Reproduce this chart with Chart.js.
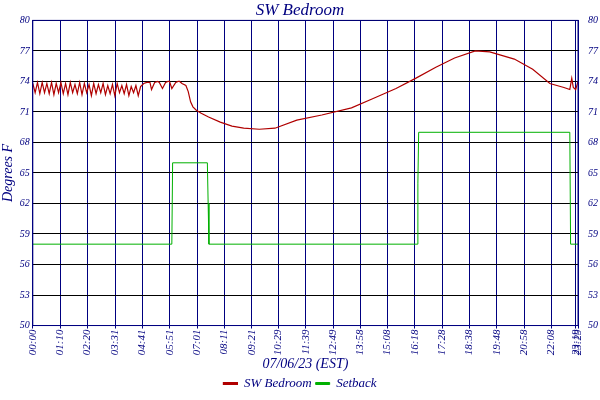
<!DOCTYPE html>
<html>
<head>
<script src="https://cdn.jsdelivr.net/npm/chart.js@4"></script>
<style>
body { margin: 0; background: #fff; }
#wrap { width: 600px; height: 400px; }
</style>
</head>
<body>
<div id="wrap"><canvas id="grafico"></canvas></div>
<script>
// minutes since midnight
const tempTimes = [
  0, 6, 12, 18, 24, 30, 36, 42, 48, 54, 60, 66, 72, 78, 84, 90, 96, 102, 108, 114,
  120, 126, 132, 138, 144, 150, 156, 162, 168, 174, 180, 186, 192, 198, 204, 210, 216, 222, 228, 234,
  240, 246, 252, 258, 264, 270, 276,
  284, 292, 300, 304, 312, 320, 324, 332, 340, 346, 350, 356, 366, 372, 376, 382, 392,
  398, 404, 410, 418, 430, 450, 480, 510, 540, 580, 620, 676, 740, 816, 870, 930, 980, 1032,
  1080, 1133, 1170, 1233, 1280, 1324, 1360, 1375, 1380, 1384, 1390, 1396
];
const tempValues = [
  73.8, 72.9, 73.9, 72.8, 73.9, 72.9, 73.8, 72.8, 73.9, 72.7, 73.8, 72.9, 73.9, 72.8, 73.8, 72.7, 73.9, 72.9, 73.7, 72.8,
  73.9, 72.7, 73.8, 72.9, 73.7, 72.6, 73.8, 72.8, 73.7, 72.9, 73.8, 72.7, 73.6, 72.8, 73.7, 72.6, 73.8, 72.9, 73.6, 72.8,
  73.7, 72.6, 73.5, 72.9, 73.6, 72.6, 73.5,
  73.8, 73.9, 73.9, 73.2, 73.9, 74.0, 73.9, 73.3, 73.9, 74.0, 74.0, 73.3, 73.9, 74.0, 74.0, 73.8, 73.6,
  73.0, 72.0, 71.5, 71.2, 70.9, 70.5, 70.0, 69.6, 69.4, 69.3, 69.4, 70.2, 70.7, 71.4, 72.3, 73.3, 74.3, 75.4,
  76.3, 77.0, 76.9, 76.2, 75.2, 73.8, 73.4, 73.2, 74.3, 73.4, 73.2, 74.0
];
const setTimes = [0, 356, 358, 447, 449, 451, 984, 986, 988, 1375, 1377, 1396];
const setValues = [58, 58, 66, 66, 62, 58, 58, 64, 69, 69, 58, 58];

const tickLabels = ["00:00", "01:10", "02:20", "03:31", "04:41", "05:51", "07:01", "08:11", "09:21", "10:29", "11:39",
  "12:49", "13:58", "15:08", "16:18", "17:28", "18:38", "19:48", "20:58", "22:08", "23:19", "23:29"];
const tickMinutes = [0, 70, 140, 211, 281, 351, 421, 491, 561, 629, 699, 769, 838, 908, 978, 1048, 1118, 1188, 1258, 1328, 1390, 1396];
const yTicks = [50, 53, 56, 59, 62, 65, 68, 71, 74, 77, 80];

const azul = "#000080";
const fonte = "Liberation Serif";

function pontos(xs, ys) {
    return xs.map((x, i) => ({ x: x, y: ys[i] }));
}

const borda = {
    id: "borda",
    afterDraw(chart) {
        const a = chart.chartArea;
        const ctx = chart.ctx;
        ctx.save();
        ctx.strokeStyle = azul;
        ctx.lineWidth = 1;
        ctx.strokeRect(a.left, a.top, a.right - a.left, a.bottom - a.top);
        ctx.restore();
    }
};

new Chart(document.getElementById("grafico"), {
    type: "line",
    data: {
        datasets: [{
            label: "SW Bedroom",
            data: pontos(tempTimes, tempValues),
            borderColor: "#b00000",
            backgroundColor: "#b00000",
            borderWidth: 1.2,
            pointRadius: 0,
            tension: 0
        }, {
            label: "Setback",
            data: pontos(setTimes, setValues),
            borderColor: "#00b000",
            backgroundColor: "#00b000",
            borderWidth: 1,
            pointRadius: 0,
            tension: 0
        }]
    },
    options: {
        animation: false,
        responsive: true,
        maintainAspectRatio: false,
        layout: { padding: { left: 0, right: 0, top: 0, bottom: 0 } },
        plugins: {
            title: {
                display: true,
                text: "SW Bedroom",
                color: azul,
                font: { family: fonte, size: 17, style: "italic", weight: "normal" },
                padding: { top: 0, bottom: 0 }
            },
            legend: {
                position: "bottom",
                labels: {
                    color: azul,
                    boxWidth: 14,
                    boxHeight: 2,
                    padding: 4,
                    font: { family: fonte, size: 13, style: "italic" }
                }
            },
            tooltip: { enabled: false }
        },
        scales: {
            x: {
                type: "linear",
                min: 0,
                max: 1396,
                afterBuildTicks(axis) {
                    axis.ticks = tickMinutes.map(v => ({ value: v }));
                },
                ticks: {
                    color: azul,
                    autoSkip: false,
                    maxRotation: 90,
                    minRotation: 90,
                    padding: 1,
                    font: { family: fonte, size: 11, style: "italic" },
                    callback: (v, i) => tickLabels[i]
                },
                grid: { color: azul, drawTicks: true, tickLength: 3 },
                border: { color: azul },
                title: {
                    display: true,
                    text: "07/06/23 (EST)",
                    color: azul,
                    padding: { top: 0, bottom: 0 },
                    font: { family: fonte, size: 14, style: "italic" }
                }
            },
            y: {
                min: 50,
                max: 80,
                afterBuildTicks(axis) {
                    axis.ticks = yTicks.map(v => ({ value: v }));
                },
                ticks: {
                    color: azul,
                    padding: 3,
                    font: { family: fonte, size: 10, style: "italic" }
                },
                grid: { color: "#000000", drawTicks: false },
                border: { color: azul },
                title: {
                    display: true,
                    text: "Degrees F",
                    color: azul,
                    padding: { top: 0, bottom: 0 },
                    font: { family: fonte, size: 14, style: "italic" }
                }
            },
            y2: {
                position: "right",
                min: 50,
                max: 80,
                afterBuildTicks(axis) {
                    axis.ticks = yTicks.map(v => ({ value: v }));
                },
                ticks: {
                    color: azul,
                    padding: 2,
                    font: { family: fonte, size: 10, style: "italic" }
                },
                grid: { display: false },
                border: { color: azul }
            }
        }
    },
    plugins: [borda]
});
</script>
</body>
</html>
